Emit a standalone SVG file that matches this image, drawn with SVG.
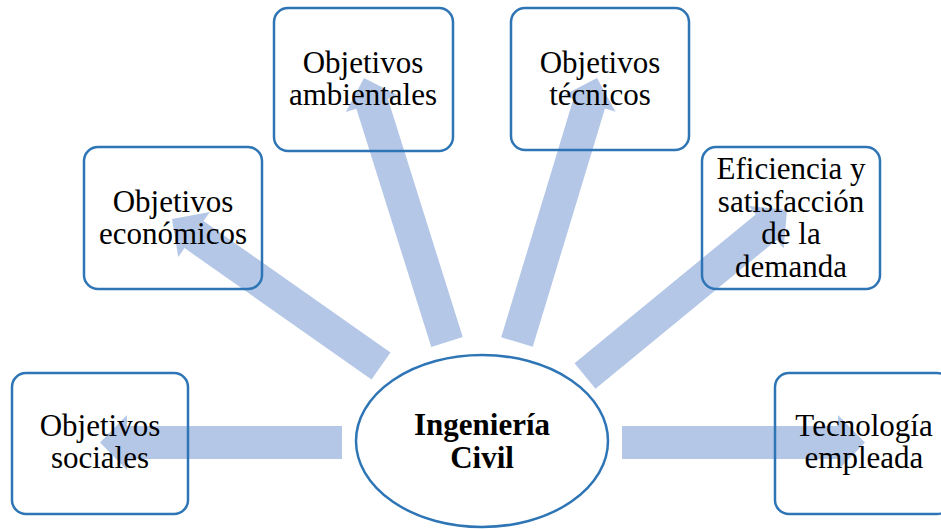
<svg xmlns="http://www.w3.org/2000/svg" width="941" height="529" viewBox="0 0 941 529">
<style>
.box{fill:none;stroke:#2E75B6;stroke-width:2.5}
.ell{fill:#FFFFFF;stroke:#2E75B6;stroke-width:2.5}
.arr{fill:#4472C4;fill-opacity:0.4}
.t{font-family:"Liberation Serif","Times New Roman",serif;font-size:31px;fill:#000;text-anchor:middle}
.b{font-weight:bold}
</style>
<rect width="941" height="529" fill="#FFFFFF"/>
<g id="connectors">
<path class="arr" transform="translate(342,442.5) rotate(180)" d="M0,-16.5 H215 V-27.5 L242,0 L215,27.5 V16.5 H0 Z"/>
<path class="arr" transform="translate(622,442.5)" d="M0,-16.5 H216 V-27.5 L243,0 L216,27.5 V16.5 H0 Z"/>
<path class="arr" transform="translate(381,366) rotate(215.1)" d="M0,-16.5 H228.5 V-27.5 L255.5,0 L228.5,27.5 V16.5 H0 Z"/>
<path class="arr" transform="translate(447,342) rotate(252.55)" d="M0,-16.5 H249.7 V-27.5 L276.7,0 L249.7,27.5 V16.5 H0 Z"/>
<path class="arr" transform="translate(517,342) rotate(-73.14)" d="M0,-16.5 H248.9 V-27.5 L275.9,0 L248.9,27.5 V16.5 H0 Z"/>
<path class="arr" transform="translate(585,376) rotate(-39.4)" d="M0,-16.5 H234.5 V-27.5 L261.5,0 L234.5,27.5 V16.5 H0 Z"/>
</g>
<g id="ingenieria-civil">
<ellipse class="ell" cx="482" cy="441" rx="126" ry="86"/>
<text class="t b" x="482" y="435">Ingeniería</text>
<text class="t b" x="482" y="468">Civil</text>
</g>
<g id="objetivos-sociales">
<rect class="box" x="12" y="373" width="176" height="141" rx="14"/>
<text class="t" x="100" y="436">Objetivos</text>
<text class="t" x="100" y="468">sociales</text>
</g>
<g id="tecnologia-empleada">
<rect class="box" x="775" y="373" width="176" height="141" rx="14"/>
<text class="t" x="864" y="436">Tecnología</text>
<text class="t" x="864" y="468">empleada</text>
</g>
<g id="objetivos-economicos">
<rect class="box" x="84" y="147" width="178" height="142" rx="14"/>
<text class="t" x="173" y="212">Objetivos</text>
<text class="t" x="173" y="244">económicos</text>
</g>
<g id="objetivos-ambientales">
<rect class="box" x="274" y="8" width="179" height="143" rx="14"/>
<text class="t" x="363" y="73">Objetivos</text>
<text class="t" x="363" y="105">ambientales</text>
</g>
<g id="objetivos-tecnicos">
<rect class="box" x="511" y="8" width="178" height="142" rx="14"/>
<text class="t" x="600" y="73">Objetivos</text>
<text class="t" x="600" y="105">técnicos</text>
</g>
<g id="eficiencia-satisfaccion">
<rect class="box" x="702" y="147" width="178" height="142" rx="14"/>
<text class="t" x="791" y="179">Eficiencia y</text>
<text class="t" x="791" y="212">satisfacción</text>
<text class="t" x="791" y="244">de la</text>
<text class="t" x="791" y="277">demanda</text>
</g>
</svg>
